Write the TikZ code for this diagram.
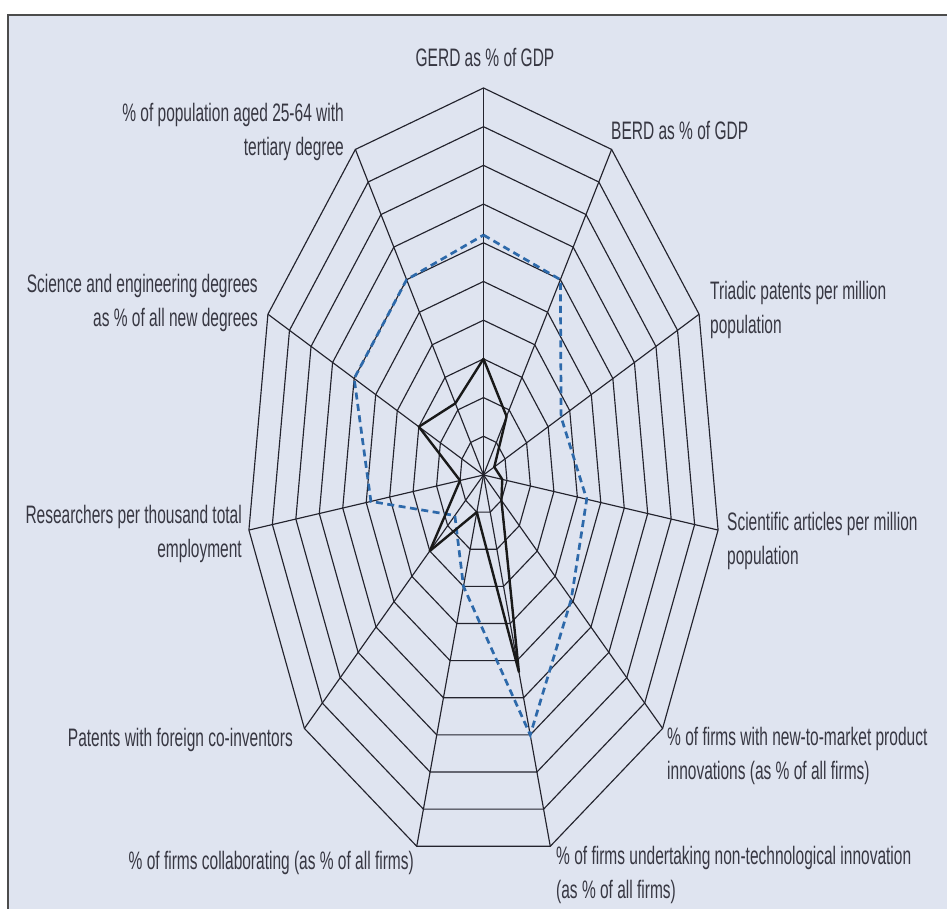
\documentclass[tikz,border=0pt]{standalone}
\usepackage{fontspec}
\setmainfont{Liberation Sans}
\definecolor{panel}{RGB}{223,228,240}
\definecolor{gridline}{RGB}{35,35,45}
\definecolor{seriesblue}{RGB}{45,105,170}
\definecolor{labelgray}{RGB}{55,55,66}
\begin{document}
\begin{tikzpicture}[x=1pt,y=1pt,
    lbl/.style={font=\fontsize{15.5}{21}\selectfont,text=labelgray,yscale=1.63,inner sep=0pt},
    gridl/.style={gridline,line width=1.15},
    blueseries/.style={seriesblue,line width=2.7,dash pattern=on 7pt off 4.5pt},
    blackseries/.style={black!90,line width=2.4,line join=round}]
  \useasboundingbox (0,0) rectangle (947,909);
  \fill[white] (0,0) rectangle (947,909);
  \fill[panel] (8,0) rectangle (947,894);
  \draw[black!70,line width=1.8] (8,0) -- (8,894) -- (947,894);
  \begin{scope}[shift={(483.5,434)},x=23.7pt,y=38.7pt]
    \coordinate (ctr) at (0,0);
    % rings and spokes of the 11 axes
    \foreach \r in {1,...,10}
      \draw[gridl] (90:\r) \foreach \k in {1,...,10} { -- ({90-\k*360/11}:\r) } -- cycle;
    \foreach \k in {0,...,10} {
      \coordinate (ax\k) at ({90-\k*360/11}:10);
      \draw[gridl] (ctr) -- (ax\k);
    }
    % the two series
    \foreach \v [count=\k from 0] in {6.2,6.0,3.6,4.4,4.9,7.0,3.0,1.6,4.8,6.0,6.0}
      \coordinate (b\k) at ({90-\k*360/11}:\v);
    \foreach \v [count=\k from 0] in {3.0,1.8,0.5,0.8,1.0,5.3,1.0,3.0,1.0,3.0,2.2}
      \coordinate (k\k) at ({90-\k*360/11}:\v);
    \draw[blueseries] (b0) \foreach \k in {1,...,10} { -- (b\k) } -- cycle;
    \draw[blackseries] (k0) \foreach \k in {1,...,10} { -- (k\k) } -- cycle;
  \end{scope}
  \node[lbl] (gerd) at (485,852) {GERD as \% of GDP};
  \node[lbl,anchor=west] (berd) at (611,779) {BERD as \% of GDP};
  \node[lbl,anchor=west,align=left] (triadic) at (710,599) {Triadic patents per million\\population};
  \node[lbl,anchor=west,align=left] (articles) at (727,368) {Scientific articles per million\\population};
  \node[lbl,anchor=west,align=left] (newmarket) at (667,153) {\% of firms with new-to-market product\\innovations (as \% of all firms)};
  \node[lbl,anchor=west,align=left] (nontech) at (556,34) {\% of firms undertaking non-technological innovation\\(as \% of all firms)};
  \node[lbl,anchor=east] (collab) at (414,46) {\% of firms collaborating (as \% of all firms)};
  \node[lbl,anchor=east] (patents) at (293,169) {Patents with foreign co-inventors};
  \node[lbl,anchor=east,align=right] (researchers) at (242,375) {Researchers per thousand total\\employment};
  \node[lbl,anchor=east,align=right] (scideg) at (258,606) {Science and engineering degrees\\as \% of all new degrees};
  \node[lbl,anchor=east,align=right] (tertiary) at (344,777) {\% of population aged 25-64 with\\tertiary degree};
\end{tikzpicture}
\end{document}
